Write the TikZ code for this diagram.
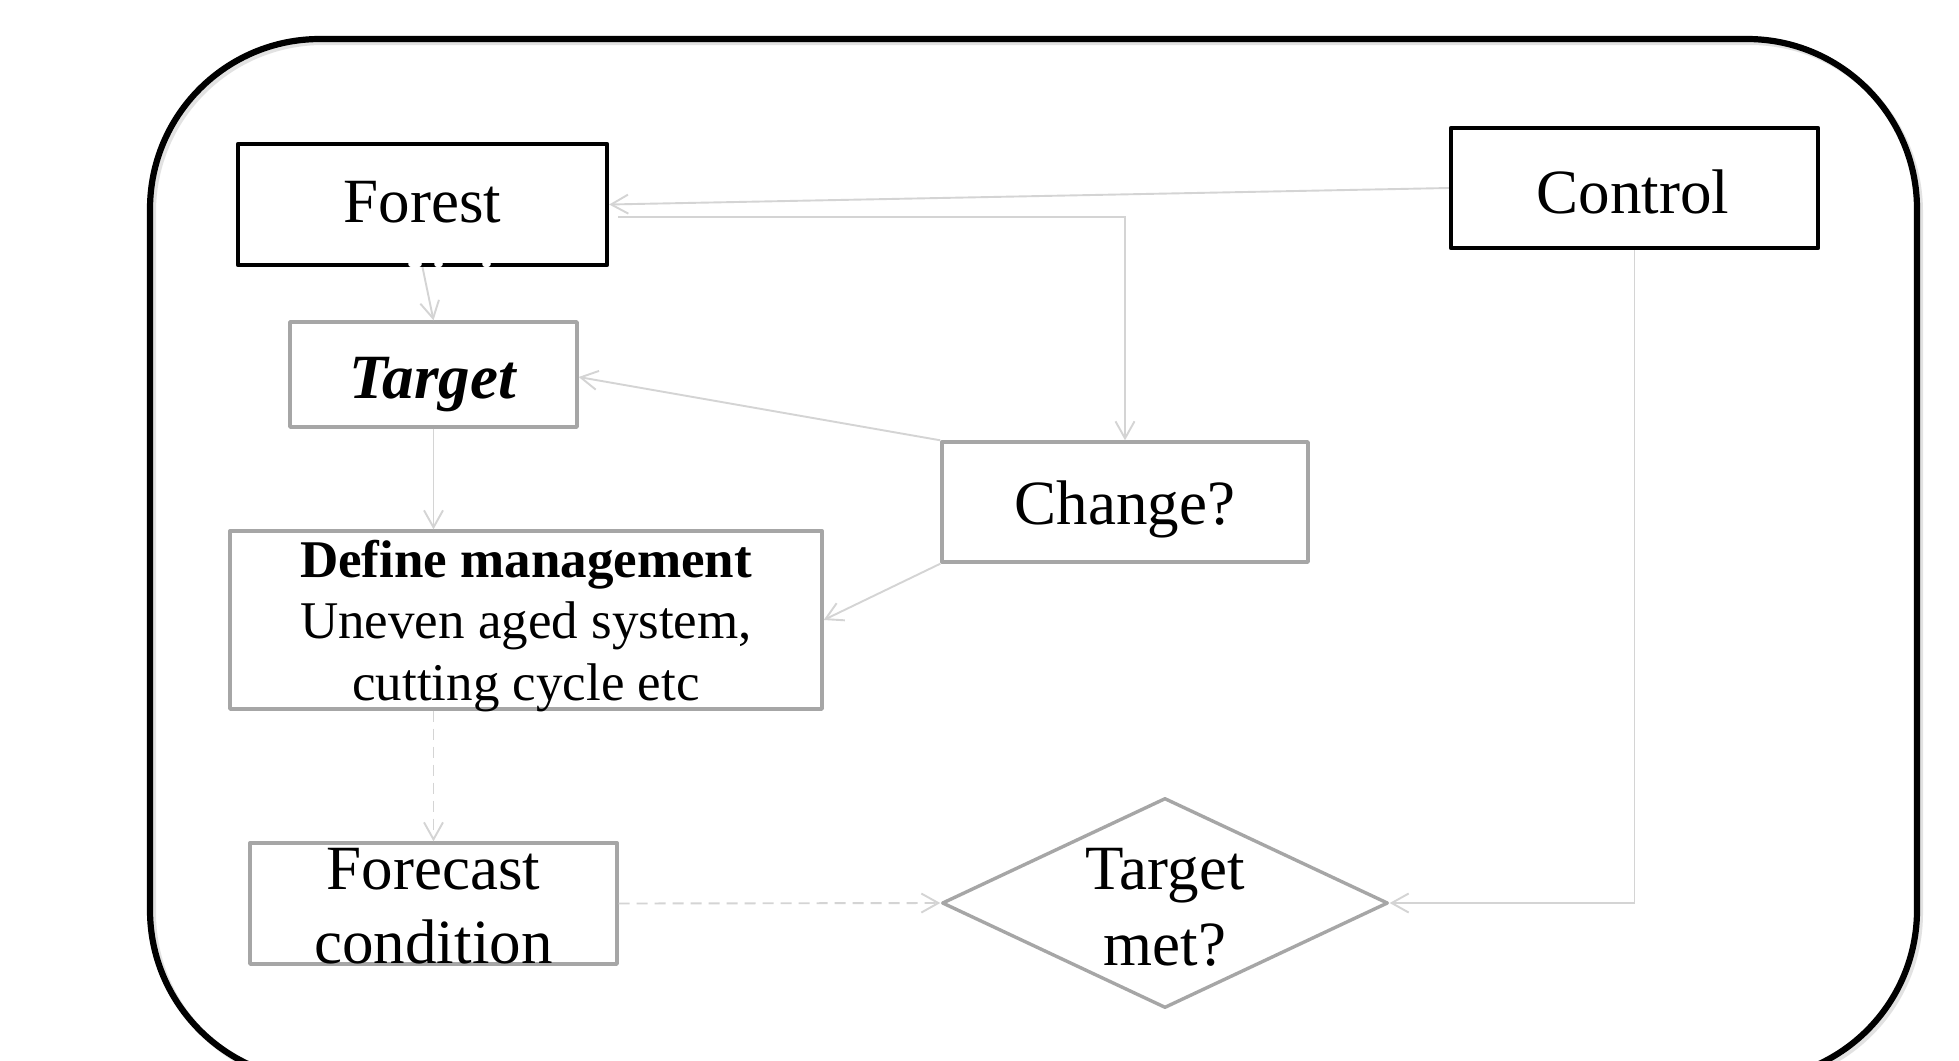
\documentclass[tikz,border=0pt]{standalone}
\usepackage{fontspec}
\setmainfont{Liberation Serif}
\usetikzlibrary{arrows.meta,shapes.geometric}
\definecolor{boxgray}{HTML}{A6A6A6}
\definecolor{linegray}{HTML}{D4D4D4}
\begin{document}
\begin{tikzpicture}[x=0.5pt,y=-0.5pt,
  blackbox/.style={draw=black,line width=2.2pt,line join=round,rectangle,inner sep=0pt},
  graybox/.style={draw=boxgray,line width=1.7pt,line join=round,rectangle,inner sep=0pt},
  graydiamond/.style={draw=boxgray,line width=1.7pt,line join=round,diamond,inner sep=0pt,aspect=2.12},
  bigtext/.style={anchor=base,inner sep=0pt,font=\fontsize{31.5pt}{37pt}\selectfont},
  smalltext/.style={anchor=base,inner sep=0pt,font=\fontsize{26.5pt}{30.75pt}\selectfont},
  conn/.style={draw=linegray,line width=0.95pt,-{Straight Barb[length=8.5pt,width=9.5pt,line width=0.95pt]}},
  dashconn/.style={conn,dash pattern=on 5.5pt off 3.5pt},
  whitemark/.style={draw=white,line width=2.8pt,line cap=round}]
\useasboundingbox (0,0) rectangle (1959,1060);
\fill[white] (0,0) rectangle (1959,1060);
% outer frame with faint shadow
\draw[gray!45,line width=3pt,opacity=0.5,rounded corners=85pt] (153,42) rectangle (1920,1083);
\draw[black,line width=3.1pt,rounded corners=85pt] (150,39) rectangle (1917,1080);
% boxes
\node[blackbox,minimum width=184.5pt,minimum height=60.5pt] (forest) at (422.5,204.5) {};
\node[blackbox,minimum width=183.5pt,minimum height=60pt] (control) at (1634.5,188) {};
\node[graybox,minimum width=143.5pt,minimum height=52.5pt] (target) at (433.5,374.5) {};
\node[graybox,minimum width=183pt,minimum height=60pt] (change) at (1125,502) {};
\node[graybox,minimum width=296pt,minimum height=89pt] (define) at (526,620) {};
\node[graybox,minimum width=183.5pt,minimum height=60.5pt] (forecast) at (433.5,903.5) {};
\node[graydiamond,minimum width=223pt,minimum height=105pt] (met) at (1165,903) {};
% texts
\node[bigtext] (forestT) at (422.5,222) {Forest};
\node[bigtext] (controlT) at (1633,213) {Control};
\node[bigtext] (targetT) at (433.5,398) {\textbf{\textit{Target}}};
\node[bigtext] (changeT) at (1125,524) {Change?};
\node[smalltext] (defineA) at (526,577) {\textbf{Define management}};
\node[smalltext] (defineB) at (526,638) {Uneven aged system,};
\node[smalltext] (defineC) at (526,700) {cutting cycle etc};
\node[bigtext] (forecastA) at (433.5,889) {Forecast};
\node[bigtext] (forecastB) at (433.5,963) {condition};
\node[bigtext] (metA) at (1165,889) {Target};
\node[bigtext] (metB) at (1165,965) {met?};
% connectors
\coordinate (fcStart) at ([xshift=4.5pt,yshift=-6.25pt]forest.east);
\draw[conn] (control.west) -- (forest.east);
\draw[conn] (fcStart) -| (change.north);
\draw[conn] (change.north west) -- ([yshift=-1.25pt]target.east);
\draw[conn] (change.south west) -- (define.east);
\draw[conn] (forest.south) -- (target.north);
\draw[conn] (target.south) -- (target.south |- define.north);
\draw[dashconn] (target.south |- define.south) -- (forecast.north);
\draw[dashconn] (forecast.east) -- (met.west);
\draw[conn] (control.south) |- (met.east);
% white marks on the Forest border
\draw[whitemark] (411,264) -- (419,264);
\draw[whitemark] (437,264) -- (440,264);
\draw[whitemark] (485,264) -- (488,264);
\end{tikzpicture}
\end{document}
